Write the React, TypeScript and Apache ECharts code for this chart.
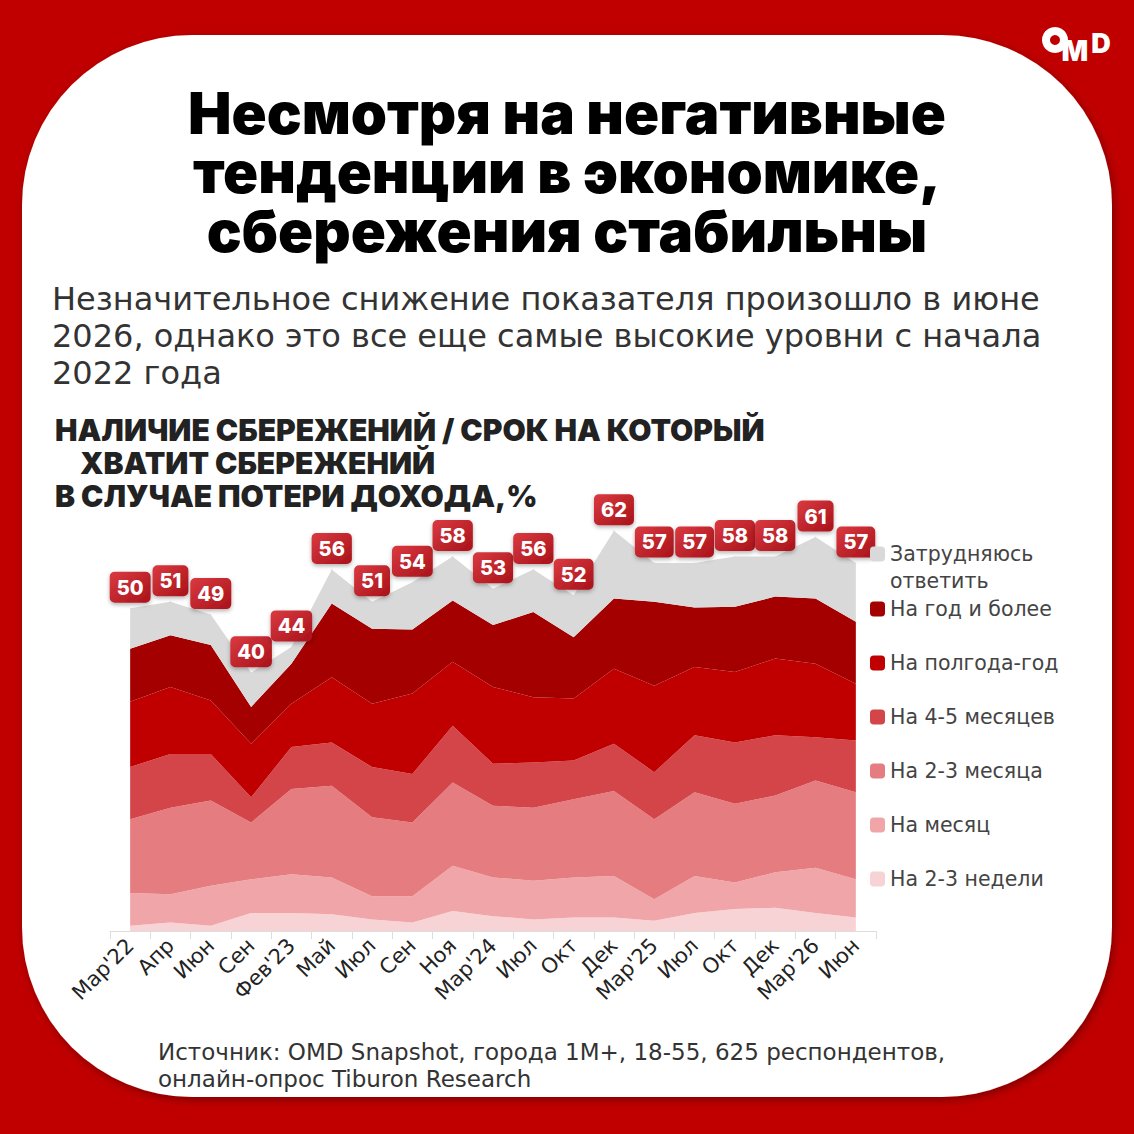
import React, { useEffect, useRef } from 'react';
import * as echarts from 'echarts';

const categories = ["Мар'22", 'Апр', 'Июн', 'Сен', "Фев'23", 'Май', 'Июл', 'Сен', 'Ноя', "Мар'24", 'Июл', 'Окт', 'Дек', "Мар'25", 'Июл', 'Окт', 'Дек', "Мар'26", 'Июн'];
const totals = [50, 51, 49, 40, 44, 56, 51, 54, 58, 53, 56, 52, 62, 57, 57, 58, 58, 61, 57];

const weeks23 = [0.8, 1.3, 0.8, 2.8, 2.8, 2.6, 1.8, 1.3, 3.1, 2.3, 1.8, 2.1, 2.1, 1.6, 2.8, 3.4, 3.6, 2.8, 2.1];
const month1 = [5.1, 4.4, 6.2, 5.2, 6.0, 5.7, 3.6, 4.1, 7.0, 6.0, 6.0, 6.2, 6.4, 3.3, 5.7, 4.1, 5.5, 7.0, 5.9];
const months23 = [11.4, 13.4, 13.2, 8.8, 13.2, 14.2, 12.2, 11.4, 12.9, 11.1, 11.3, 12.1, 13.2, 12.4, 13.0, 12.2, 11.9, 13.5, 13.5];
const months45 = [8.1, 8.3, 7.2, 3.9, 6.5, 6.7, 7.8, 7.5, 8.8, 6.5, 7.0, 6.0, 7.3, 7.3, 8.8, 9.5, 9.3, 6.7, 8.0];
const halfYear = [10.1, 10.4, 8.3, 8.3, 6.7, 10.1, 9.8, 12.5, 9.9, 11.9, 10.1, 9.6, 11.6, 13.4, 10.6, 10.9, 11.9, 11.4, 8.8];
const yearPlus = [8.2, 8.0, 8.6, 5.7, 6.2, 11.4, 11.6, 9.9, 9.5, 9.6, 13.2, 9.5, 10.9, 13.0, 9.2, 10.1, 9.6, 10.1, 9.6];
const hardToSay = [6.3, 5.2, 4.7, 5.3, 2.6, 5.3, 4.2, 7.3, 6.8, 5.6, 6.6, 6.5, 10.5, 6.0, 6.9, 7.8, 6.2, 9.5, 9.1];

const seriesNames = ['На 2-3 недели', 'На месяц', 'На 2-3 месяца', 'На 4-5 месяцев', 'На полгода-год', 'На год и более', 'Затрудняюсь ответить'];
const seriesData = [weeks23, month1, months23, months45, halfYear, yearPlus, hardToSay];
const seriesColors = ['#f8d3d5', '#f0a6a8', '#e57c7f', '#d4454a', '#c00000', '#a40000', '#d9d9d9'];

const legendOrder = ['Затрудняюсь ответить', 'На год и более', 'На полгода-год', 'На 4-5 месяцев', 'На 2-3 месяца', 'На месяц', 'На 2-3 недели'];
const legendCenters = [554, 609, 663, 717, 771, 825, 879];

const titleLines = ['Несмотря на негативные', 'тенденции в экономике,', 'сбережения стабильны'];
const subtitleLines = ['Незначительное снижение показателя произошло в июне', '2026, однако это все еще самые высокие уровни с начала', '2022 года'];
const headingLines = ['НАЛИЧИЕ СБЕРЕЖЕНИЙ / СРОК НА КОТОРЫЙ', 'ХВАТИТ СБЕРЕЖЕНИЙ', 'В СЛУЧАЕ ПОТЕРИ ДОХОДА,%'];
const footerLines = ['Источник: OMD Snapshot, города 1M+, 18-55, 625 респондентов,', 'онлайн-опрос Tiburon Research'];

export default function App() {
  const ref = useRef<HTMLDivElement>(null);
  useEffect(() => {
    if (!ref.current) return;
    const chart = echarts.init(ref.current, undefined, { renderer: 'svg' });
    const last = seriesNames.length - 1;
    const series = seriesNames.map((name, i) => ({
      name,
      type: 'line',
      stack: 'total',
      data: seriesData[i],
      symbol: i === last ? 'circle' : 'none',
      symbolSize: i === last ? 1 : 0,
      lineStyle: { width: 0, color: seriesColors[i] },
      itemStyle: { color: seriesColors[i] },
      areaStyle: { color: seriesColors[i], opacity: 1 },
      z: 2,
      label: i === last ? {
        show: true,
        position: 'top',
        distance: 5,
        formatter: (p: any) => String(totals[p.dataIndex]),
        color: '#fff',
        fontFamily: 'Inter',
        fontWeight: 800,
        fontSize: 20,
        lineHeight: 22,
        padding: [5, 7, 4, 7],
        borderRadius: 5,
        backgroundColor: new echarts.graphic.LinearGradient(0, 0, 1, 1, [
          { offset: 0, color: '#da3a40' },
          { offset: 1, color: '#a8121a' },
        ]),
        shadowBlur: 4,
        shadowOffsetY: 2,
        shadowColor: 'rgba(0,0,0,0.3)',
      } : { show: false },
      emphasis: { disabled: true },
    }));

    const legends = legendOrder.map((name, i) => ({
      data: [name],
      orient: 'vertical',
      left: 870,
      top: legendCenters[i] - 13,
      padding: 0,
      itemWidth: 15,
      itemHeight: 15,
      itemGap: 0,
      icon: 'roundRect',
      selectedMode: false,
      formatter: (n: string) => (n === 'Затрудняюсь ответить' ? 'Затрудняюсь' : n),
      textStyle: { fontSize: 20.5, lineHeight: 26, color: '#444', fontFamily: 'DejaVu Sans' },
    }));

    const textEl = (text: string, x: number, y: number, align: string, extra: any) => ({
      type: 'text', x, y,
      style: { text, textAlign: align, align, textVerticalAlign: 'middle', verticalAlign: 'middle', ...extra },
    });

    chart.setOption({
      animation: false,
      backgroundColor: '#c00000',
      grid: { left: 110, right: 258, top: 479, bottom: 203, containLabel: false },
      xAxis: {
        type: 'category',
        data: categories,
        boundaryGap: true,
        axisLine: { show: true, lineStyle: { color: '#dddddd', width: 1 } },
        axisTick: { show: true, length: 8, lineStyle: { color: '#dddddd' } },
        axisLabel: { interval: 0, rotate: 45, margin: 11, fontSize: 21, color: '#222', fontFamily: 'DejaVu Sans' },
      },
      yAxis: { type: 'value', min: 0, max: 70, show: false, splitLine: { show: false } },
      legend: legends,
      series,
      graphic: [
        {
          type: 'rect', z: -10, silent: true,
          shape: { x: 22, y: 35, width: 1090, height: 1062, r: 170 },
          style: { fill: '#ffffff', shadowBlur: 8, shadowOffsetX: 2, shadowOffsetY: 3, shadowColor: 'rgba(0,0,0,0.35)' },
        },
        { type: 'ring', shape: { cx: 1055, cy: 40, r: 13, r0: 5 }, style: { fill: '#fff' } },
        textEl('M', 1075, 51, 'center', { fill: '#fff', fontSize: 28, fontWeight: 900, fontFamily: 'Inter' }),
        textEl('D', 1101, 43, 'center', { fill: '#fff', fontSize: 27, fontWeight: 900, fontFamily: 'Inter' }),
        ...titleLines.map((t, i) => textEl(t, 567, 113 + i * 59, 'center', { fill: '#000', fontSize: 58, fontWeight: 900, fontFamily: 'Inter' })),
        ...subtitleLines.map((t, i) => textEl(t, 52, 299 + i * 37, 'left', { fill: '#333', fontSize: 32, fontFamily: 'DejaVu Sans' })),
        ...headingLines.map((t, i) => textEl(t, i === 1 ? 80 : 55, 430 + i * 33, 'left', { fill: '#222', fontSize: 30, fontWeight: 900, fontFamily: 'Inter' })),
        textEl('ответить', 890, 581, 'left', { fill: '#444', fontSize: 20.5, fontFamily: 'DejaVu Sans' }),
        ...footerLines.map((t, i) => textEl(t, 158, 1052 + i * 27, 'left', { fill: '#333', fontSize: 23, fontFamily: 'DejaVu Sans' })),
      ],
    });
    return () => chart.dispose();
  }, []);
  return <div ref={ref} style={{ position: 'fixed', left: 0, top: 0, width: 1134, height: 1134 }} />;
}
